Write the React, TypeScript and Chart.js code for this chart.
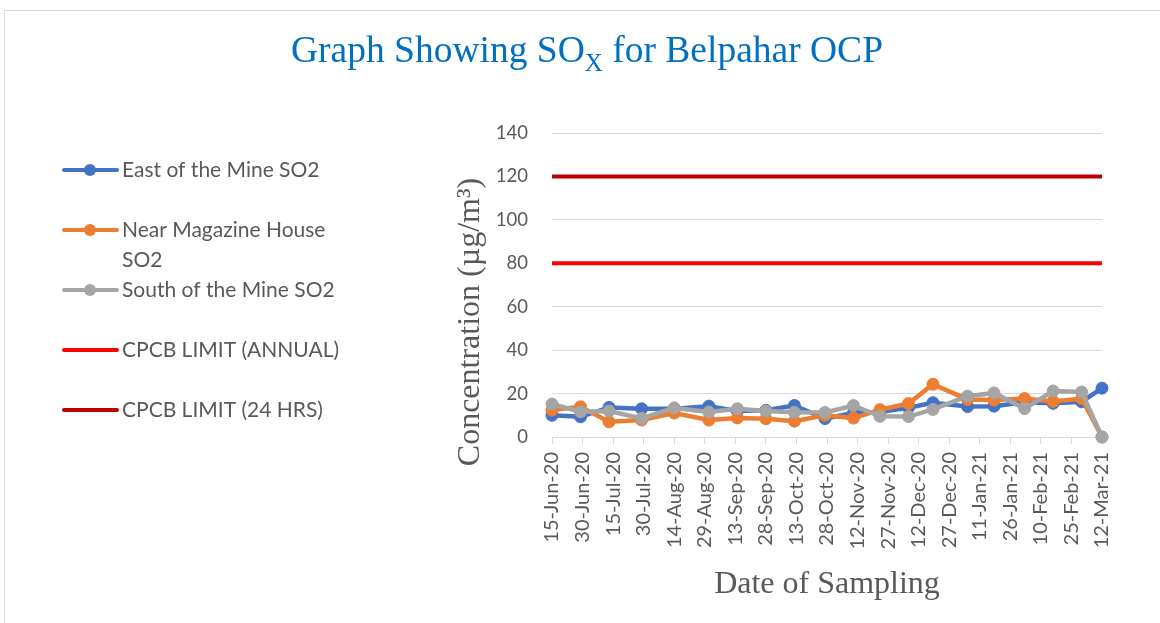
import { useEffect, useRef } from "react";
import { Chart, registerables } from "chart.js";

Chart.register(...registerables);

// ---------------- data ----------------
const axisStartDate = "2020-06-15";
const axisEndDate = "2021-03-12";
const tickStepDays = 15;

const tickLabels = [
  "15-Jun-20", "30-Jun-20", "15-Jul-20", "30-Jul-20", "14-Aug-20", "29-Aug-20",
  "13-Sep-20", "28-Sep-20", "13-Oct-20", "28-Oct-20", "12-Nov-20", "27-Nov-20",
  "12-Dec-20", "27-Dec-20", "11-Jan-21", "26-Jan-21", "10-Feb-21", "25-Feb-21",
  "12-Mar-21",
];

const sampleDates = [
  "2020-06-15", "2020-06-29", "2020-07-13", "2020-07-29", "2020-08-14",
  "2020-08-31", "2020-09-14", "2020-09-28", "2020-10-12", "2020-10-27",
  "2020-11-10", "2020-11-23", "2020-12-07", "2020-12-19", "2021-01-05",
  "2021-01-18", "2021-02-02", "2021-02-16", "2021-03-02", "2021-03-12",
];

const eastOfMineSO2 = [10, 9.3, 13.6, 13, 13, 14.2, 12, 12.3, 14.5, 8.5, 11, 11.5, 13.5, 15.8, 14, 14.2, 16, 15.5, 16.2, 22.5];
const nearMagazineSO2 = [12.4, 13.9, 7, 7.8, 11, 7.8, 8.8, 8.4, 7.3, 10, 8.7, 12.6, 15.4, 24.3, 17.3, 17, 17.7, 16.4, 17.7, 0];
const southOfMineSO2 = [15.2, 11.6, 12, 8.6, 13.4, 11.5, 13, 12, 11.4, 11.3, 14.5, 9.5, 9.4, 12.7, 18.8, 20.3, 13.1, 21.2, 20.7, 0];

const cpcbAnnualLimit = 80;
const cpcb24HrsLimit = 120;

const seriesNames = [
  "East of the Mine SO2",
  "Near Magazine House SO2",
  "South of the Mine SO2",
  "CPCB LIMIT (ANNUAL)",
  "CPCB LIMIT (24 HRS)",
];

const yTicks = { min: 0, max: 140, step: 20 };

// ---------------- styles ----------------
const COLORS = ["#4472C4", "#ED7D31", "#A5A5A5", "#FF0000", "#C00000"];
const SANS = "Lato, 'Noto Sans', sans-serif";
const SERIF = "'Liberation Serif', 'DejaVu Serif', serif";
const TEXT_GRAY = "#595959";
const GRID = "#D9D9D9";

const DAY = 86400000;
const dayOffset = (d: string) => Math.round((Date.parse(d) - Date.parse(axisStartDate)) / DAY);
const axisMaxDay = dayOffset(axisEndDate);

const toPoints = (vals: number[]) => sampleDates.map((d, i) => ({ x: dayOffset(d), y: vals[i] }));
const limitPoints = (v: number) => [
  { x: 0, y: v },
  { x: axisMaxDay, y: v },
];

const decorPlugin = {
  id: "decor",
  beforeDraw(chart: any) {
    const ctx = chart.ctx;
    ctx.save();
    ctx.fillStyle = "#ffffff";
    ctx.fillRect(0, 0, chart.width, chart.height);
    ctx.strokeStyle = GRID;
    ctx.lineWidth = 1;
    ctx.strokeRect(4.5, 10.5, chart.width + 10, chart.height + 10);
    ctx.restore();
  },
  afterDraw(chart: any) {
    const ctx = chart.ctx;
    const area = chart.chartArea;
    ctx.save();

    // Title with subscript
    const big = `37.5px ${SERIF}`;
    const small = `25px ${SERIF}`;
    const p1 = "Graph Showing SO";
    const p2 = "X";
    const p3 = " for Belpahar OCP";
    ctx.font = big;
    const w1 = ctx.measureText(p1).width;
    const w3 = ctx.measureText(p3).width;
    ctx.font = small;
    const w2 = ctx.measureText(p2).width;
    const total = w1 + w2 + w3;
    let x = 587 - total / 2;
    const base = 62;
    ctx.fillStyle = "#0070C0";
    ctx.textBaseline = "alphabetic";
    ctx.textAlign = "left";
    ctx.font = big;
    ctx.fillText(p1, x, base);
    x += w1;
    ctx.font = small;
    ctx.fillText(p2, x, base + 9);
    x += w2;
    ctx.font = big;
    ctx.fillText(p3, x, base);

    // Y axis title
    ctx.fillStyle = TEXT_GRAY;
    ctx.font = `32px ${SERIF}`;
    ctx.textAlign = "center";
    ctx.textBaseline = "middle";
    ctx.save();
    ctx.translate(area.left - 81, 322);
    ctx.rotate(-Math.PI / 2);
    ctx.fillText("Concentration (µg/m³)", 0, 0);
    ctx.restore();

    // X axis title
    ctx.fillText("Date of Sampling", (area.left + area.right) / 2, 585);

    // Legend
    const rows = [170, 230, 290, 350, 410];
    ctx.font = `21px ${SANS}`;
    ctx.textAlign = "left";
    ctx.textBaseline = "middle";
    chart.data.datasets.forEach((ds: any, i: number) => {
      const y = rows[i];
      ctx.strokeStyle = ds.borderColor;
      ctx.lineWidth = 4;
      ctx.lineCap = "round";
      ctx.beginPath();
      ctx.moveTo(64, y);
      ctx.lineTo(117, y);
      ctx.stroke();
      if (ds.pointRadius > 0) {
        ctx.fillStyle = ds.borderColor;
        ctx.beginPath();
        ctx.arc(90, y, 6, 0, Math.PI * 2);
        ctx.fill();
      }
      ctx.fillStyle = TEXT_GRAY;
      // simple word wrap
      const words = String(ds.label).split(" ");
      let line = "";
      let ly = y;
      const maxW = 230;
      words.forEach((w) => {
        const test = line ? line + " " + w : w;
        if (ctx.measureText(test).width > maxW && line) {
          ctx.fillText(line, 122, ly);
          line = w;
          ly += 30;
        } else {
          line = test;
        }
      });
      ctx.fillText(line, 122, ly);
    });

    ctx.restore();
  },
};

export default function App() {
  const ref = useRef<HTMLCanvasElement | null>(null);

  useEffect(() => {
    if (!ref.current) return;
    const series = [eastOfMineSO2, nearMagazineSO2, southOfMineSO2];
    const datasets: any[] = series.map((vals, i) => ({
      label: seriesNames[i],
      data: toPoints(vals),
      borderColor: COLORS[i],
      backgroundColor: COLORS[i],
      pointBackgroundColor: COLORS[i],
      pointBorderColor: COLORS[i],
      pointRadius: 6,
      pointBorderWidth: 1,
      borderWidth: 4.5,
      tension: 0,
      clip: false,
      order: 3 - i,
    }));
    [cpcbAnnualLimit, cpcb24HrsLimit].forEach((v, j) => {
      datasets.push({
        label: seriesNames[3 + j],
        data: limitPoints(v),
        borderColor: COLORS[3 + j],
        backgroundColor: COLORS[3 + j],
        pointRadius: 0,
        borderWidth: 4,
        clip: false,
        order: 5 + j,
      });
    });

    const chart = new Chart(ref.current, {
      type: "line",
      data: { datasets },
      plugins: [decorPlugin],
      options: {
        animation: false,
        responsive: false,
        maintainAspectRatio: false,
        layout: { padding: { left: 0, right: 58, top: 133, bottom: 0 } },
        plugins: {
          legend: { display: false },
          title: { display: false },
          tooltip: { enabled: false },
        },
        scales: {
          x: {
            type: "linear",
            min: 0,
            max: axisMaxDay,
            afterFit: (s: any) => {
              s.height = 186;
            },
            afterBuildTicks: (s: any) => {
              s.ticks = tickLabels.map((_, i) => ({ value: i * tickStepDays }));
            },
            ticks: {
              autoSkip: false,
              minRotation: 90,
              maxRotation: 90,
              padding: 8,
              color: TEXT_GRAY,
              font: { family: SANS, size: 20 },
              callback: (v: any) => tickLabels[Math.round(Number(v) / tickStepDays)] ?? "",
            },
            grid: {
              drawOnChartArea: false,
              drawTicks: true,
              tickLength: 7,
              color: GRID,
            },
            border: { color: GRID, width: 1 },
          },
          y: {
            min: yTicks.min,
            max: yTicks.max,
            afterFit: (s: any) => {
              s.width = 552;
            },
            ticks: {
              stepSize: yTicks.step,
              padding: 24,
              color: TEXT_GRAY,
              font: { family: SANS, size: 18.5 },
            },
            grid: { color: GRID, drawTicks: false, lineWidth: 1 },
            border: { display: false },
          },
        },
      },
    });

    let alive = true;
    (document as any).fonts?.ready?.then(() => {
      if (alive) chart.update();
    });

    return () => {
      alive = false;
      chart.destroy();
    };
  }, []);

  return (
    <div style={{ position: "fixed", left: 0, top: 0, width: 1160, height: 623, background: "#fff" }}>
      <canvas ref={ref} width={1160} height={623} style={{ display: "block" }} />
    </div>
  );
}
